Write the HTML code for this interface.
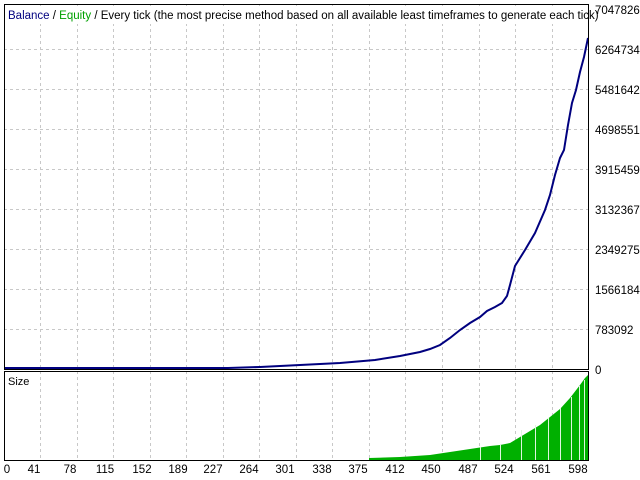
<!DOCTYPE html>
<html><head><meta charset="utf-8"><style>
html,body{margin:0;padding:0;background:#fff;}
svg{display:block;font-family:"Liberation Sans",sans-serif;}
</style></head><body>
<svg width="640" height="480" viewBox="0 0 640 480" xmlns="http://www.w3.org/2000/svg">
<rect width="640" height="480" fill="#fff"/>
<g stroke="#c8c8c8" stroke-dasharray="3,3" stroke-width="1">
<line x1="40.5" y1="5" x2="40.5" y2="460"/><line x1="77.5" y1="5" x2="77.5" y2="460"/>
<line x1="113.5" y1="5" x2="113.5" y2="460"/><line x1="150.5" y1="5" x2="150.5" y2="460"/>
<line x1="186.5" y1="5" x2="186.5" y2="460"/><line x1="223.5" y1="5" x2="223.5" y2="460"/>
<line x1="259.5" y1="5" x2="259.5" y2="460"/><line x1="296.5" y1="5" x2="296.5" y2="460"/>
<line x1="332.5" y1="5" x2="332.5" y2="460"/><line x1="369.5" y1="5" x2="369.5" y2="460"/>
<line x1="405.5" y1="5" x2="405.5" y2="460"/><line x1="442.5" y1="5" x2="442.5" y2="460"/>
<line x1="479.5" y1="5" x2="479.5" y2="460"/><line x1="515.5" y1="5" x2="515.5" y2="460"/>
<line x1="552.5" y1="5" x2="552.5" y2="460"/>
<line x1="4" y1="49.5" x2="589" y2="49.5"/><line x1="4" y1="89.5" x2="589" y2="89.5"/>
<line x1="4" y1="129.5" x2="589" y2="129.5"/><line x1="4" y1="169.5" x2="589" y2="169.5"/>
<line x1="4" y1="209.5" x2="589" y2="209.5"/><line x1="4" y1="249.5" x2="589" y2="249.5"/>
<line x1="4" y1="289.5" x2="589" y2="289.5"/><line x1="4" y1="329.5" x2="589" y2="329.5"/>
</g>
<rect x="5" y="6" width="582" height="18" fill="#fff"/>
<text x="8" y="19" font-size="11.5"><tspan fill="#00007f">Balance</tspan><tspan fill="#000"> / </tspan><tspan fill="#00a000">Equity</tspan><tspan fill="#000"> / Every tick (the most precise method based on all available least timeframes to generate each tick)</tspan></text>
<polygon fill="#00b000" points="369,460 369,458 400,457 430,455 450,452 470,449 490,446 500,445 510,443 515,440 525,434 540,425 550,417 560,409 570,398 580,385 585,378 588,375 588,460"/>
<g stroke="#dff5df" stroke-width="1">
<line x1="521.5" y1="430" x2="521.5" y2="460"/><line x1="535.5" y1="425" x2="535.5" y2="460"/><line x1="548.5" y1="418" x2="548.5" y2="460"/><line x1="560.5" y1="408" x2="560.5" y2="460"/><line x1="571.5" y1="397" x2="571.5" y2="460"/><line x1="579.5" y1="386" x2="579.5" y2="460"/><line x1="584.5" y1="380" x2="584.5" y2="460"/><line x1="500.5" y1="444" x2="500.5" y2="460"/><line x1="480.5" y1="447" x2="480.5" y2="460"/>
</g>
<polyline fill="none" stroke="#00007f" stroke-width="2" points="5,368 228,368 260,367 300,365 340,363 375,360 400,356 420,352 430,349 440,345 450,338 460,330 470,323 480,317 487,311 495,307 502,303 507,296 510,285 515,266 525,250 535,233 545,210 550,195 555,175 560,158 564,150 568,125 572,103 576,90 580,72 584,57 588,38"/>
<rect x="4.5" y="4.5" width="584" height="365" fill="none" stroke="#000" stroke-width="1"/>
<rect x="4.5" y="371.5" width="584" height="89" fill="none" stroke="#000" stroke-width="1"/>
<text x="8" y="385" font-size="11">Size</text>
<g font-size="11.5" fill="#000">
<text x="595" y="14">7047826</text><text x="595" y="54">6264734</text>
<text x="595" y="94">5481642</text><text x="595" y="134">4698551</text>
<text x="595" y="174">3915459</text><text x="595" y="214">3132367</text>
<text x="595" y="254">2349275</text><text x="595" y="294">1566184</text>
<text x="595" y="334">783092</text><text x="595" y="374">0</text>
</g>
<g font-size="11.5" fill="#000" text-anchor="middle">
<text x="7" y="473">0</text><text x="34" y="473">41</text><text x="70" y="473">78</text>
<text x="105" y="473">115</text><text x="142" y="473">152</text><text x="178" y="473">189</text>
<text x="213" y="473">227</text><text x="249" y="473">264</text><text x="285" y="473">301</text>
<text x="322" y="473">338</text><text x="358" y="473">375</text><text x="395" y="473">412</text>
<text x="431" y="473">450</text><text x="468" y="473">487</text><text x="504" y="473">524</text>
<text x="541" y="473">561</text><text x="578" y="473">598</text>
</g>
</svg>
</body></html>
